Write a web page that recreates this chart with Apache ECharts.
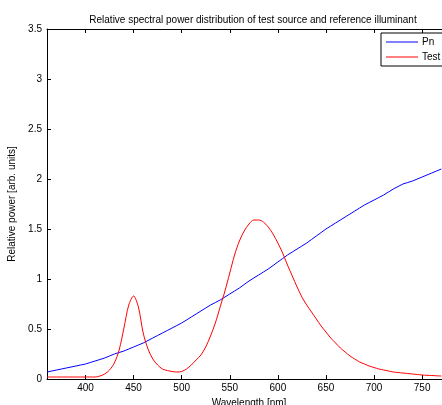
<!DOCTYPE html>
<html><head><meta charset="utf-8">
<script src="https://cdn.jsdelivr.net/npm/echarts@6/dist/echarts.min.js"></script>
<style>html,body{margin:0;padding:0;background:#fff;}#c{width:442px;height:405px;}</style>
</head><body><div id="c"></div>
<script>
const wavelengths = [360,365,370,375,380,385,390,395,400,405,410,415,420,425,430,435,440,445,450,455,460,465,470,475,480,485,490,495,500,505,510,515,520,525,530,535,540,545,550,555,560,565,570,575,580,585,590,595,600,605,610,615,620,625,630,635,640,645,650,655,660,665,670,675,680,685,690,695,700,705,710,715,720,725,730,735,740,745,750,755,760,765,770];
const pnValues = [0.07,0.08,0.09,0.10,0.11,0.12,0.13,0.14,0.15,0.165,0.18,0.195,0.21,0.23,0.25,0.265,0.28,0.30,0.32,0.34,0.36,0.385,0.41,0.435,0.46,0.485,0.51,0.535,0.56,0.59,0.62,0.65,0.68,0.71,0.74,0.765,0.79,0.82,0.85,0.88,0.91,0.945,0.98,1.01,1.04,1.07,1.10,1.135,1.17,1.205,1.24,1.27,1.30,1.33,1.36,1.395,1.43,1.465,1.50,1.53,1.56,1.59,1.62,1.65,1.68,1.71,1.74,1.765,1.79,1.815,1.84,1.87,1.90,1.925,1.95,1.965,1.98,2.00,2.02,2.04,2.06,2.08,2.10];
const testValues = [0.02,0.02,0.02,0.02,0.02,0.02,0.02,0.02,0.02,0.02,0.02,0.03,0.05,0.09,0.16,0.29,0.51,0.74,0.83,0.72,0.46,0.30,0.20,0.14,0.10,0.085,0.075,0.07,0.075,0.10,0.14,0.19,0.24,0.32,0.43,0.56,0.72,0.88,1.06,1.24,1.38,1.48,1.55,1.59,1.59,1.57,1.52,1.45,1.36,1.26,1.14,1.03,0.92,0.82,0.74,0.67,0.60,0.53,0.47,0.41,0.36,0.31,0.27,0.23,0.20,0.17,0.15,0.13,0.115,0.10,0.09,0.08,0.07,0.065,0.06,0.055,0.05,0.045,0.04,0.037,0.035,0.032,0.03];
const xTicks = [400,450,500,550,600,650,700,750];
const seriesNames = ['Pn','Test'];
const seriesColors = ['#0000ff','#ff0000'];

const font = 'Liberation Sans, Arial, sans-serif';
const chart = echarts.init(document.getElementById('c'), null, {renderer:'canvas'});
const xCommon = {
  type:'value', min:360, max:780,
  axisLine:{show:true, onZero:false, lineStyle:{color:'#000', width:1}},
  splitLine:{show:false},
  axisTick:{show:true, inside:true, length:4, customValues:xTicks, lineStyle:{color:'#000'}}
};
chart.setOption({
  animation:false,
  backgroundColor:'#fff',
  title:{text:'Relative spectral power distribution of test source and reference illuminant',
    left:248, textAlign:'center', top:10,
    textStyle:{fontFamily:font, fontSize:10, fontWeight:'normal', color:'#000'}},
  legend:{
    data:seriesNames.map((n,i)=>({name:n, icon:'rect', itemStyle:{color:seriesColors[i], borderWidth:0}})),
    orient:'vertical', left:381, top:33,
    backgroundColor:'#fff', borderColor:'#000', borderWidth:1,
    padding:[3,10,3,5], itemGap:3, itemWidth:32, itemHeight:1,
    textStyle:{fontFamily:font, fontSize:10, color:'#000', lineHeight:12, padding:[0,0,0,-1]}
  },
  grid:{left:47, top:29, right:-9, bottom:26, containLabel:false, outerBoundsMode:'none'},
  xAxis:[
    Object.assign({}, xCommon, {position:'bottom',
      name:'Wavelength [nm]', nameLocation:'middle', nameGap:18,
      nameTextStyle:{fontFamily:font, fontSize:10, color:'#000'},
      axisLabel:{show:true, customValues:xTicks, margin:4, fontFamily:font, fontSize:10, color:'#000'}}),
    Object.assign({}, xCommon, {position:'top', axisLabel:{show:false}})
  ],
  yAxis:[{
    type:'value', min:0, max:3.5, interval:0.5,
    axisLine:{show:true, lineStyle:{color:'#000'}},
    axisTick:{show:true, inside:true, length:4, lineStyle:{color:'#000'}},
    splitLine:{show:false},
    axisLabel:{margin:5, fontFamily:font, fontSize:10, color:'#000'},
    name:'Relative power [arb. units]', nameLocation:'middle', nameGap:24, nameRotate:90,
    nameTextStyle:{fontFamily:font, fontSize:10, color:'#000'}
  }],
  series:[
    {name:seriesNames[0], type:'line', data:wavelengths.map((w,i)=>[w,pnValues[i]]), showSymbol:false, symbol:'none',
      lineStyle:{color:seriesColors[0], width:1}, itemStyle:{color:seriesColors[0]}, color:seriesColors[0]},
    {name:seriesNames[1], type:'line', data:wavelengths.map((w,i)=>[w,testValues[i]]), showSymbol:false, symbol:'none',
      lineStyle:{color:seriesColors[1], width:1}, itemStyle:{color:seriesColors[1]}, color:seriesColors[1], smooth:0.3}
  ]
});
</script></body></html>
